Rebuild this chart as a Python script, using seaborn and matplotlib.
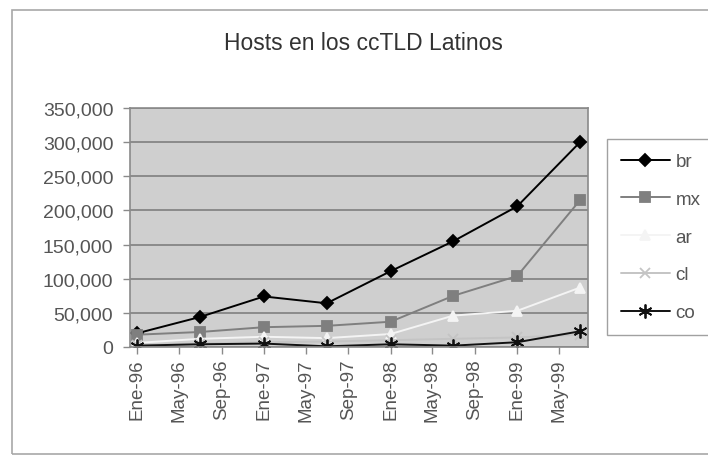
import matplotlib
matplotlib.use("Agg")
import matplotlib.pyplot as plt
import matplotlib.dates as mdates
from matplotlib.ticker import FuncFormatter, MultipleLocator
from matplotlib.patches import Rectangle
import pandas as pd
import seaborn as sns

# ---- data ----
fechas = ["1996-01", "1996-07", "1997-01", "1997-07", "1998-01", "1998-07", "1999-01", "1999-07"]
br = [20000, 44000, 74000, 64000, 111000, 155000, 206000, 300000]
mx = [18000, 22000, 29000, 31000, 37000, 75000, 104000, 215000]
ar = [6000, 12000, 15000, 13000, 19000, 46000, 53000, 87000]
cl = [3000, 5000, 7000, 8000, 10000, 12000, 14000, 18000]
co = [2000, 4000, 5000, 1000, 4000, 2000, 7000, 23000]
series_names = ["br", "mx", "ar", "cl", "co"]
series_values = [br, mx, ar, cl, co]
title = "Hosts en los ccTLD Latinos"
meses_es = {1: "Ene", 5: "May", 9: "Sep"}

# ---- styles ----
colors = {"br": "#000000", "mx": "#7f7f7f", "ar": "#f4f4f4", "cl": "#c4c4c4", "co": "#111111"}
markers = {"br": "D", "mx": "s", "ar": "^", "cl": "x", "co": (6, 2, 0)}
msizes = {"br": 6, "mx": 7, "ar": 7, "cl": 7, "co": 10}

sns.set_theme(style="white")
plt.rcParams["font.family"] = ["Liberation Sans", "DejaVu Sans"]

fig = plt.figure(figsize=(7.08, 4.56), dpi=100, facecolor="white")
ax = fig.add_axes([130 / 708, 1 - 348 / 456, (588 - 130) / 708, (348 - 109) / 456])
ax.set_facecolor("#cfcfcf")

x = pd.to_datetime(fechas)
for name, vals in zip(series_names, series_values):
    sns.lineplot(x=x, y=vals, ax=ax, color=colors[name], marker=markers[name],
                 markersize=msizes[name], markeredgecolor=colors[name],
                 markerfacecolor=colors[name], markeredgewidth=1.3,
                 linewidth=1.4, label=name, legend=False)

ax.set_ylim(0, 350000)
ax.yaxis.set_major_locator(MultipleLocator(50000))
ax.yaxis.set_major_formatter(FuncFormatter(lambda v, p: f"{int(v):,}"))
ax.set_xlim(pd.Timestamp("1995-12-12"), pd.Timestamp("1999-07-24"))
ax.xaxis.set_major_locator(mdates.MonthLocator(bymonth=[1, 5, 9]))
ax.xaxis.set_major_formatter(FuncFormatter(
    lambda v, p: f"{meses_es[mdates.num2date(v).month]}-{mdates.num2date(v).strftime('%y')}"))
ax.grid(axis="y", color="#858585", linewidth=1.3)
ax.grid(axis="x", visible=False)
ax.set_axisbelow(True)
ax.set_xlabel("")
ax.set_ylabel("")
for s in ax.spines.values():
    s.set_color("#8a8a8a")
    s.set_linewidth(1.2)
ax.tick_params(axis="both", which="major", direction="out", length=5, width=1,
               color="#8a8a8a", labelcolor="#555555", pad=3,
               bottom=True, left=True)
ax.tick_params(axis="y", labelsize=14, pad=7)
ax.tick_params(axis="x", labelsize=13.5)
plt.setp(ax.get_xticklabels(), rotation=90)

fig.text(0.513, 0.905, title, ha="center", va="center", fontsize=16.5, color="#333333")

handles = ax.get_lines()
leg = fig.legend(handles=handles, labels=series_names, loc="upper left",
                 bbox_to_anchor=(607 / 708, 1 - 140 / 456), borderaxespad=0,
                 frameon=True, fancybox=False, edgecolor="#8a8a8a", facecolor="white",
                 fontsize=13.5, handlelength=2.6, labelspacing=1.1,
                 borderpad=0.75, handletextpad=0.3)
leg.get_frame().set_linewidth(1.0)
for t in leg.get_texts():
    t.set_color("#555555")

fig.patches.append(Rectangle((12 / 708, 1 / 456), 1.2, 1 - 12 / 456, transform=fig.transFigure,
                             fill=False, edgecolor="#a8a8a8", linewidth=1.2))

fig.savefig("out.png", dpi=100, facecolor="white")
